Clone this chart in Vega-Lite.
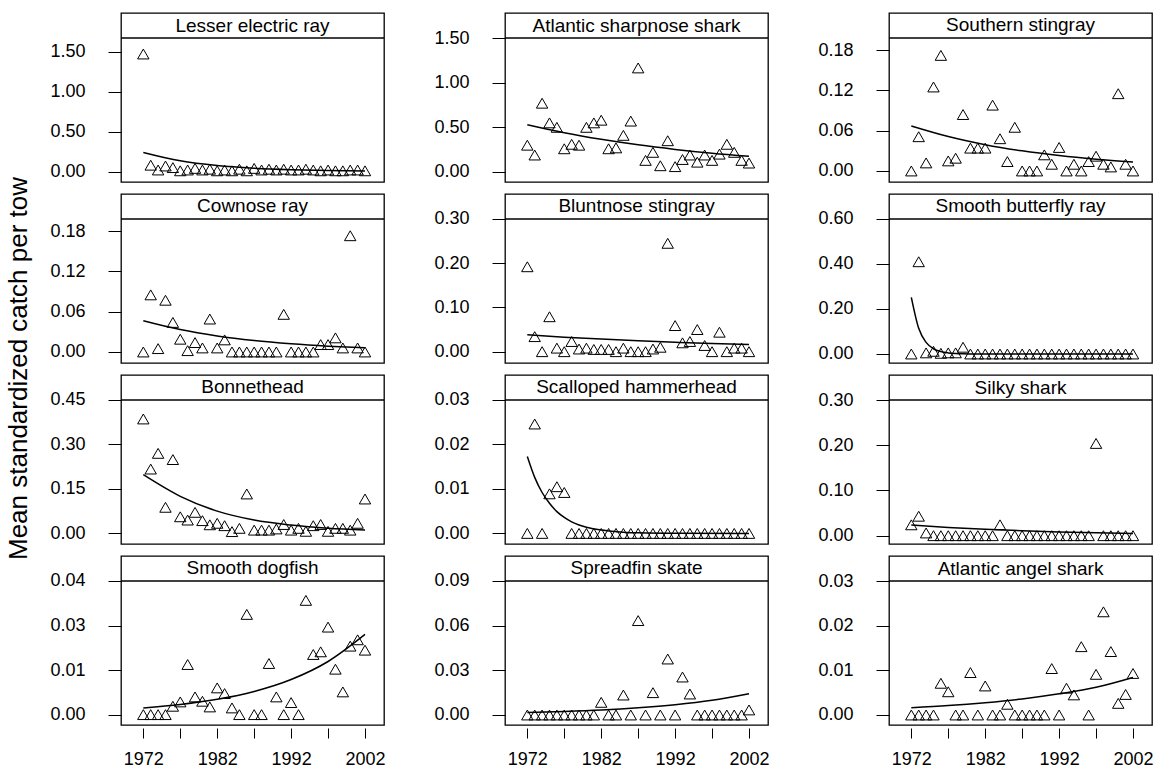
{
"$schema": "https://vega.github.io/schema/vega-lite/v6.json",
"padding": {"left": 6, "top": 12, "right": 0, "bottom": 0},
"title": {"text": "Mean standardized catch per tow", "orient": "left", "anchor": "middle", "fontSize": 26, "fontWeight": "normal", "font": "Liberation Sans", "color": "black", "offset": 17, "dx": 22},
"datasets": {
"p1": [{"year":1972,"cpue":1.47},{"year":1973,"cpue":0.08},{"year":1974,"cpue":0.02},{"year":1975,"cpue":0.07},{"year":1976,"cpue":0.05},{"year":1977,"cpue":0.01},{"year":1978,"cpue":0.02},{"year":1979,"cpue":0.04},{"year":1980,"cpue":0.02},{"year":1981,"cpue":0.03},{"year":1982,"cpue":0.01},{"year":1983,"cpue":0.02},{"year":1984,"cpue":0.01},{"year":1985,"cpue":0.03},{"year":1986,"cpue":0.01},{"year":1987,"cpue":0.04},{"year":1988,"cpue":0.02},{"year":1989,"cpue":0.03},{"year":1990,"cpue":0.02},{"year":1991,"cpue":0.03},{"year":1992,"cpue":0.02},{"year":1993,"cpue":0.02},{"year":1994,"cpue":0.03},{"year":1995,"cpue":0.02},{"year":1996,"cpue":0.01},{"year":1997,"cpue":0.02},{"year":1998,"cpue":0.01},{"year":1999,"cpue":0.01},{"year":2000,"cpue":0.02},{"year":2001,"cpue":0.02},{"year":2002,"cpue":0.01}],
"p2": [{"year":1972,"cpue":0.30},{"year":1973,"cpue":0.19},{"year":1974,"cpue":0.77},{"year":1975,"cpue":0.55},{"year":1976,"cpue":0.50},{"year":1977,"cpue":0.26},{"year":1978,"cpue":0.31},{"year":1979,"cpue":0.30},{"year":1980,"cpue":0.50},{"year":1981,"cpue":0.55},{"year":1982,"cpue":0.58},{"year":1983,"cpue":0.26},{"year":1984,"cpue":0.27},{"year":1985,"cpue":0.41},{"year":1986,"cpue":0.57},{"year":1987,"cpue":1.165},{"year":1988,"cpue":0.13},{"year":1989,"cpue":0.22},{"year":1990,"cpue":0.07},{"year":1991,"cpue":0.35},{"year":1992,"cpue":0.06},{"year":1993,"cpue":0.14},{"year":1994,"cpue":0.19},{"year":1995,"cpue":0.11},{"year":1996,"cpue":0.19},{"year":1997,"cpue":0.13},{"year":1998,"cpue":0.20},{"year":1999,"cpue":0.31},{"year":2000,"cpue":0.22},{"year":2001,"cpue":0.13},{"year":2002,"cpue":0.10}],
"p3": [{"year":1972,"cpue":0.0},{"year":1973,"cpue":0.051},{"year":1974,"cpue":0.012},{"year":1975,"cpue":0.125},{"year":1976,"cpue":0.172},{"year":1977,"cpue":0.015},{"year":1978,"cpue":0.019},{"year":1979,"cpue":0.084},{"year":1980,"cpue":0.034},{"year":1981,"cpue":0.034},{"year":1982,"cpue":0.034},{"year":1983,"cpue":0.098},{"year":1984,"cpue":0.048},{"year":1985,"cpue":0.014},{"year":1986,"cpue":0.065},{"year":1987,"cpue":0.0},{"year":1988,"cpue":0.0},{"year":1989,"cpue":0.0},{"year":1990,"cpue":0.024},{"year":1991,"cpue":0.010},{"year":1992,"cpue":0.035},{"year":1993,"cpue":0.0},{"year":1994,"cpue":0.010},{"year":1995,"cpue":0.0},{"year":1996,"cpue":0.014},{"year":1997,"cpue":0.022},{"year":1998,"cpue":0.010},{"year":1999,"cpue":0.006},{"year":2000,"cpue":0.115},{"year":2001,"cpue":0.010},{"year":2002,"cpue":0.0}],
"p4": [{"year":1972,"cpue":0.0},{"year":1973,"cpue":0.085},{"year":1974,"cpue":0.005},{"year":1975,"cpue":0.077},{"year":1976,"cpue":0.044},{"year":1977,"cpue":0.019},{"year":1978,"cpue":0.002},{"year":1979,"cpue":0.014},{"year":1980,"cpue":0.006},{"year":1981,"cpue":0.049},{"year":1982,"cpue":0.006},{"year":1983,"cpue":0.018},{"year":1984,"cpue":0.0},{"year":1985,"cpue":0.0},{"year":1986,"cpue":0.0},{"year":1987,"cpue":0.0},{"year":1988,"cpue":0.0},{"year":1989,"cpue":0.0},{"year":1990,"cpue":0.0},{"year":1991,"cpue":0.056},{"year":1992,"cpue":0.0},{"year":1993,"cpue":0.0},{"year":1994,"cpue":0.0},{"year":1995,"cpue":0.0},{"year":1996,"cpue":0.011},{"year":1997,"cpue":0.011},{"year":1998,"cpue":0.021},{"year":1999,"cpue":0.006},{"year":2000,"cpue":0.173},{"year":2001,"cpue":0.006},{"year":2002,"cpue":0.0}],
"p5": [{"year":1972,"cpue":0.192},{"year":1973,"cpue":0.034},{"year":1974,"cpue":0.0},{"year":1975,"cpue":0.079},{"year":1976,"cpue":0.008},{"year":1977,"cpue":0.0},{"year":1978,"cpue":0.023},{"year":1979,"cpue":0.006},{"year":1980,"cpue":0.008},{"year":1981,"cpue":0.005},{"year":1982,"cpue":0.005},{"year":1983,"cpue":0.005},{"year":1984,"cpue":0.0},{"year":1985,"cpue":0.008},{"year":1986,"cpue":0.0},{"year":1987,"cpue":0.0},{"year":1988,"cpue":0.0},{"year":1989,"cpue":0.006},{"year":1990,"cpue":0.010},{"year":1991,"cpue":0.245},{"year":1992,"cpue":0.059},{"year":1993,"cpue":0.020},{"year":1994,"cpue":0.023},{"year":1995,"cpue":0.050},{"year":1996,"cpue":0.014},{"year":1997,"cpue":0.0},{"year":1998,"cpue":0.044},{"year":1999,"cpue":0.0},{"year":2000,"cpue":0.008},{"year":2001,"cpue":0.008},{"year":2002,"cpue":0.0}],
"p6": [{"year":1972,"cpue":0.0},{"year":1973,"cpue":0.41},{"year":1974,"cpue":0.005},{"year":1975,"cpue":0.012},{"year":1976,"cpue":0.003},{"year":1977,"cpue":0.005},{"year":1978,"cpue":0.005},{"year":1979,"cpue":0.03},{"year":1980,"cpue":0.0},{"year":1981,"cpue":0.0},{"year":1982,"cpue":0.0},{"year":1983,"cpue":0.0},{"year":1984,"cpue":0.0},{"year":1985,"cpue":0.0},{"year":1986,"cpue":0.0},{"year":1987,"cpue":0.0},{"year":1988,"cpue":0.0},{"year":1989,"cpue":0.0},{"year":1990,"cpue":0.0},{"year":1991,"cpue":0.0},{"year":1992,"cpue":0.0},{"year":1993,"cpue":0.0},{"year":1994,"cpue":0.0},{"year":1995,"cpue":0.0},{"year":1996,"cpue":0.0},{"year":1997,"cpue":0.0},{"year":1998,"cpue":0.0},{"year":1999,"cpue":0.0},{"year":2000,"cpue":0.0},{"year":2001,"cpue":0.0},{"year":2002,"cpue":0.0}],
"p7": [{"year":1972,"cpue":0.386},{"year":1973,"cpue":0.217},{"year":1974,"cpue":0.27},{"year":1975,"cpue":0.088},{"year":1976,"cpue":0.249},{"year":1977,"cpue":0.056},{"year":1978,"cpue":0.045},{"year":1979,"cpue":0.071},{"year":1980,"cpue":0.043},{"year":1981,"cpue":0.029},{"year":1982,"cpue":0.034},{"year":1983,"cpue":0.026},{"year":1984,"cpue":0.006},{"year":1985,"cpue":0.017},{"year":1986,"cpue":0.133},{"year":1987,"cpue":0.011},{"year":1988,"cpue":0.011},{"year":1989,"cpue":0.011},{"year":1990,"cpue":0.015},{"year":1991,"cpue":0.030},{"year":1992,"cpue":0.011},{"year":1993,"cpue":0.017},{"year":1994,"cpue":0.007},{"year":1995,"cpue":0.026},{"year":1996,"cpue":0.030},{"year":1997,"cpue":0.007},{"year":1998,"cpue":0.017},{"year":1999,"cpue":0.017},{"year":2000,"cpue":0.011},{"year":2001,"cpue":0.034},{"year":2002,"cpue":0.116}],
"p8": [{"year":1972,"cpue":0.0},{"year":1973,"cpue":0.0246},{"year":1974,"cpue":0.0},{"year":1975,"cpue":0.0089},{"year":1976,"cpue":0.0105},{"year":1977,"cpue":0.0092},{"year":1978,"cpue":0.0},{"year":1979,"cpue":0.0},{"year":1980,"cpue":0.0},{"year":1981,"cpue":0.0},{"year":1982,"cpue":0.0},{"year":1983,"cpue":0.0},{"year":1984,"cpue":0.0},{"year":1985,"cpue":0.0},{"year":1986,"cpue":0.0},{"year":1987,"cpue":0.0},{"year":1988,"cpue":0.0},{"year":1989,"cpue":0.0},{"year":1990,"cpue":0.0},{"year":1991,"cpue":0.0},{"year":1992,"cpue":0.0},{"year":1993,"cpue":0.0},{"year":1994,"cpue":0.0},{"year":1995,"cpue":0.0},{"year":1996,"cpue":0.0},{"year":1997,"cpue":0.0},{"year":1998,"cpue":0.0},{"year":1999,"cpue":0.0},{"year":2000,"cpue":0.0},{"year":2001,"cpue":0.0},{"year":2002,"cpue":0.0}],
"p9": [{"year":1972,"cpue":0.024},{"year":1973,"cpue":0.043},{"year":1974,"cpue":0.006},{"year":1975,"cpue":0.0},{"year":1976,"cpue":0.0},{"year":1977,"cpue":0.0},{"year":1978,"cpue":0.0},{"year":1979,"cpue":0.0},{"year":1980,"cpue":0.0},{"year":1981,"cpue":0.0},{"year":1982,"cpue":0.0},{"year":1983,"cpue":0.0},{"year":1984,"cpue":0.024},{"year":1985,"cpue":0.0},{"year":1986,"cpue":0.0},{"year":1987,"cpue":0.0},{"year":1988,"cpue":0.0},{"year":1989,"cpue":0.0},{"year":1990,"cpue":0.0},{"year":1991,"cpue":0.0},{"year":1992,"cpue":0.0},{"year":1993,"cpue":0.0},{"year":1994,"cpue":0.0},{"year":1995,"cpue":0.0},{"year":1996,"cpue":0.0},{"year":1997,"cpue":0.204},{"year":1998,"cpue":0.0},{"year":1999,"cpue":0.0},{"year":2000,"cpue":0.0},{"year":2001,"cpue":0.0},{"year":2002,"cpue":0.0}],
"p10": [{"year":1972,"cpue":0.0},{"year":1973,"cpue":0.0},{"year":1974,"cpue":0.0},{"year":1975,"cpue":0.0},{"year":1976,"cpue":0.0025},{"year":1977,"cpue":0.0038},{"year":1978,"cpue":0.015},{"year":1979,"cpue":0.0053},{"year":1980,"cpue":0.004},{"year":1981,"cpue":0.0023},{"year":1982,"cpue":0.008},{"year":1983,"cpue":0.0063},{"year":1984,"cpue":0.002},{"year":1985,"cpue":0.0},{"year":1986,"cpue":0.030},{"year":1987,"cpue":0.0},{"year":1988,"cpue":0.0},{"year":1989,"cpue":0.0153},{"year":1990,"cpue":0.0053},{"year":1991,"cpue":0.0},{"year":1992,"cpue":0.0036},{"year":1993,"cpue":0.0},{"year":1994,"cpue":0.0342},{"year":1995,"cpue":0.018},{"year":1996,"cpue":0.0188},{"year":1997,"cpue":0.0262},{"year":1998,"cpue":0.0136},{"year":1999,"cpue":0.0068},{"year":2000,"cpue":0.0205},{"year":2001,"cpue":0.0224},{"year":2002,"cpue":0.0193}],
"p11": [{"year":1972,"cpue":0.0},{"year":1973,"cpue":0.0},{"year":1974,"cpue":0.0},{"year":1975,"cpue":0.0},{"year":1976,"cpue":0.0},{"year":1977,"cpue":0.0},{"year":1978,"cpue":0.0},{"year":1979,"cpue":0.0},{"year":1980,"cpue":0.0},{"year":1981,"cpue":0.0},{"year":1982,"cpue":0.0085},{"year":1983,"cpue":0.0},{"year":1984,"cpue":0.0},{"year":1985,"cpue":0.0134},{"year":1986,"cpue":0.0},{"year":1987,"cpue":0.0634},{"year":1988,"cpue":0.0},{"year":1989,"cpue":0.015},{"year":1990,"cpue":0.0},{"year":1991,"cpue":0.0376},{"year":1992,"cpue":0.0},{"year":1993,"cpue":0.0255},{"year":1994,"cpue":0.0141},{"year":1995,"cpue":0.0},{"year":1996,"cpue":0.0},{"year":1997,"cpue":0.0},{"year":1998,"cpue":0.0},{"year":1999,"cpue":0.0},{"year":2000,"cpue":0.0},{"year":2001,"cpue":0.0},{"year":2002,"cpue":0.0034}],
"p12": [{"year":1972,"cpue":0.0},{"year":1973,"cpue":0.0},{"year":1974,"cpue":0.0},{"year":1975,"cpue":0.0},{"year":1976,"cpue":0.0071},{"year":1977,"cpue":0.0052},{"year":1978,"cpue":0.0},{"year":1979,"cpue":0.0},{"year":1980,"cpue":0.0095},{"year":1981,"cpue":0.0},{"year":1982,"cpue":0.0065},{"year":1983,"cpue":0.0},{"year":1984,"cpue":0.0},{"year":1985,"cpue":0.0024},{"year":1986,"cpue":0.0},{"year":1987,"cpue":0.0},{"year":1988,"cpue":0.0},{"year":1989,"cpue":0.0},{"year":1990,"cpue":0.0},{"year":1991,"cpue":0.0104},{"year":1992,"cpue":0.0},{"year":1993,"cpue":0.006},{"year":1994,"cpue":0.0045},{"year":1995,"cpue":0.0153},{"year":1996,"cpue":0.0},{"year":1997,"cpue":0.0091},{"year":1998,"cpue":0.0231},{"year":1999,"cpue":0.0142},{"year":2000,"cpue":0.0026},{"year":2001,"cpue":0.0046},{"year":2002,"cpue":0.0093}],
"f1": [{"year":1972,"fit":0.24},{"year":1977,"fit":0.135},{"year":1982,"fit":0.0757},{"year":1987,"fit":0.0425},{"year":1992,"fit":0.0238},{"year":1997,"fit":0.0134},{"year":2002,"fit":0.0075}],
"f2": [{"year":1972,"fit":0.53},{"year":1977,"fit":0.44},{"year":1982,"fit":0.366},{"year":1987,"fit":0.304},{"year":1992,"fit":0.253},{"year":1997,"fit":0.21},{"year":2002,"fit":0.175}],
"f3": [{"year":1972,"fit":0.067},{"year":1977,"fit":0.0513},{"year":1982,"fit":0.0392},{"year":1987,"fit":0.030},{"year":1992,"fit":0.023},{"year":1997,"fit":0.0176},{"year":2002,"fit":0.0134}],
"f4": [{"year":1972,"fit":0.0465},{"year":1977,"fit":0.0333},{"year":1982,"fit":0.0238},{"year":1987,"fit":0.017},{"year":1992,"fit":0.0122},{"year":1997,"fit":0.0087},{"year":2002,"fit":0.0062}],
"f5": [{"year":1972,"fit":0.038},{"year":1977,"fit":0.0328},{"year":1982,"fit":0.0284},{"year":1987,"fit":0.0245},{"year":1992,"fit":0.0212},{"year":1997,"fit":0.0183},{"year":2002,"fit":0.016}],
"f6": [{"year":1972,"fit":0.252},{"year":1973,"fit":0.114},{"year":1974,"fit":0.0515},{"year":1975,"fit":0.0233},{"year":1976,"fit":0.0105},{"year":1977,"fit":0.0048},{"year":1978,"fit":0.0022},{"year":1979,"fit":0.001},{"year":1981,"fit":0.0002},{"year":1987,"fit":0.0},{"year":2002,"fit":0.0}],
"f7": [{"year":1972,"fit":0.198},{"year":1977,"fit":0.125},{"year":1982,"fit":0.075},{"year":1987,"fit":0.045},{"year":1992,"fit":0.028},{"year":1997,"fit":0.017},{"year":2002,"fit":0.011}],
"f8": [{"year":1972,"fit":0.0173},{"year":1973,"fit":0.0126},{"year":1974,"fit":0.0092},{"year":1975,"fit":0.0068},{"year":1976,"fit":0.0049},{"year":1977,"fit":0.0036},{"year":1978,"fit":0.0026},{"year":1979,"fit":0.0019},{"year":1980,"fit":0.0014},{"year":1982,"fit":0.00075},{"year":1984,"fit":0.0004},{"year":1987,"fit":0.00015},{"year":1992,"fit":0.00003},{"year":2002,"fit":0.0}],
"f9": [{"year":1972,"fit":0.0236},{"year":1977,"fit":0.0182},{"year":1982,"fit":0.0141},{"year":1987,"fit":0.0109},{"year":1992,"fit":0.0084},{"year":1997,"fit":0.0065},{"year":2002,"fit":0.005}],
"f10": [{"year":1972,"fit":0.002},{"year":1977,"fit":0.00303},{"year":1982,"fit":0.00458},{"year":1987,"fit":0.00693},{"year":1992,"fit":0.0105},{"year":1997,"fit":0.0159},{"year":2002,"fit":0.024}],
"f11": [{"year":1972,"fit":0.0016},{"year":1977,"fit":0.0023},{"year":1982,"fit":0.0033},{"year":1987,"fit":0.0048},{"year":1992,"fit":0.0069},{"year":1997,"fit":0.0099},{"year":2002,"fit":0.0143}],
"f12": [{"year":1972,"fit":0.0016},{"year":1977,"fit":0.0021},{"year":1982,"fit":0.00276},{"year":1987,"fit":0.0036},{"year":1992,"fit":0.00475},{"year":1997,"fit":0.0062},{"year":2002,"fit":0.0084}]
},
"columns": 3,
"spacing": {"row": 12, "column": 121},
"bounds": "flush",
"concat": [
{"width": 263, "height": 169, "layer": [
 {"data": {"name": "p1"}, "mark": {"type": "point", "shape": "triangle-up", "size": 130, "filled": false, "color": "black", "strokeWidth": 1, "opacity": 1},
  "encoding": {"x": {"field": "year", "type": "quantitative", "scale": {"domain": [1968.98, 2004.57], "nice": false, "zero": false}, "axis": null},
   "y": {"field": "cpue", "type": "quantitative", "scale": {"domain": [-0.13, 1.9825], "nice": false, "zero": false},
    "axis": {"title": null, "values": [0,0.25,0.5,0.75,1,1.25,1.5], "labelExpr": "round(datum.value/0.25)%2==0 ? format(datum.value,'.2f') : ''", "tickSize": {"condition": {"test": "round(datum.value/0.25)%2==0", "value": 13}, "value": 6}}}}},
 {"data": {"name": "f1"}, "mark": {"type": "line", "color": "black", "strokeWidth": 1.5, "interpolate": "monotone"}, "encoding": {"x": {"field": "year", "type": "quantitative"}, "y": {"field": "fit", "type": "quantitative"}}},
 {"data": {"values": [{}]}, "mark": {"type": "rule", "color": "black", "strokeWidth": 1.3}, "encoding": {"y": {"datum": 1.67, "type": "quantitative"}}},
 {"data": {"values": [{}]}, "mark": {"type": "text", "fontSize": 19, "color": "black", "baseline": "middle"}, "encoding": {"x": {"datum": 1986.78, "type": "quantitative"}, "y": {"datum": 1.826, "type": "quantitative"}, "text": {"value": "Lesser electric ray"}}}
]},
{"width": 263, "height": 169, "layer": [
 {"data": {"name": "p2"}, "mark": {"type": "point", "shape": "triangle-up", "size": 130, "filled": false, "color": "black", "strokeWidth": 1, "opacity": 1},
  "encoding": {"x": {"field": "year", "type": "quantitative", "scale": {"domain": [1968.98, 2004.57], "nice": false, "zero": false}, "axis": null},
   "y": {"field": "cpue", "type": "quantitative", "scale": {"domain": [-0.112, 1.78], "nice": false, "zero": false},
    "axis": {"title": null, "values": [0,0.25,0.5,0.75,1,1.25,1.5], "labelExpr": "round(datum.value/0.25)%2==0 ? format(datum.value,'.2f') : ''", "tickSize": {"condition": {"test": "round(datum.value/0.25)%2==0", "value": 13}, "value": 6}}}}},
 {"data": {"name": "f2"}, "mark": {"type": "line", "color": "black", "strokeWidth": 1.5, "interpolate": "monotone"}, "encoding": {"x": {"field": "year", "type": "quantitative"}, "y": {"field": "fit", "type": "quantitative"}}},
 {"data": {"values": [{}]}, "mark": {"type": "rule", "color": "black", "strokeWidth": 1.3}, "encoding": {"y": {"datum": 1.5, "type": "quantitative"}}},
 {"data": {"values": [{}]}, "mark": {"type": "text", "fontSize": 19, "color": "black", "baseline": "middle"}, "encoding": {"x": {"datum": 1986.78, "type": "quantitative"}, "y": {"datum": 1.64, "type": "quantitative"}, "text": {"value": "Atlantic sharpnose shark"}}}
]},
{"width": 263, "height": 169, "layer": [
 {"data": {"name": "p3"}, "mark": {"type": "point", "shape": "triangle-up", "size": 130, "filled": false, "color": "black", "strokeWidth": 1, "opacity": 1},
  "encoding": {"x": {"field": "year", "type": "quantitative", "scale": {"domain": [1968.98, 2004.57], "nice": false, "zero": false}, "axis": null},
   "y": {"field": "cpue", "type": "quantitative", "scale": {"domain": [-0.0164, 0.2351], "nice": false, "zero": false},
    "axis": {"title": null, "values": [0,0.03,0.06,0.09,0.12,0.15,0.18], "labelExpr": "round(datum.value/0.03)%2==0 ? format(datum.value,'.2f') : ''", "tickSize": {"condition": {"test": "round(datum.value/0.03)%2==0", "value": 13}, "value": 6}}}}},
 {"data": {"name": "f3"}, "mark": {"type": "line", "color": "black", "strokeWidth": 1.5, "interpolate": "monotone"}, "encoding": {"x": {"field": "year", "type": "quantitative"}, "y": {"field": "fit", "type": "quantitative"}}},
 {"data": {"values": [{}]}, "mark": {"type": "rule", "color": "black", "strokeWidth": 1.3}, "encoding": {"y": {"datum": 0.1979, "type": "quantitative"}}},
 {"data": {"values": [{}]}, "mark": {"type": "text", "fontSize": 19, "color": "black", "baseline": "middle"}, "encoding": {"x": {"datum": 1986.78, "type": "quantitative"}, "y": {"datum": 0.2165, "type": "quantitative"}, "text": {"value": "Southern stingray"}}}
]},
{"width": 263, "height": 169, "layer": [
 {"data": {"name": "p4"}, "mark": {"type": "point", "shape": "triangle-up", "size": 130, "filled": false, "color": "black", "strokeWidth": 1, "opacity": 1},
  "encoding": {"x": {"field": "year", "type": "quantitative", "scale": {"domain": [1968.98, 2004.57], "nice": false, "zero": false}, "axis": null},
   "y": {"field": "cpue", "type": "quantitative", "scale": {"domain": [-0.0164, 0.2351], "nice": false, "zero": false},
    "axis": {"title": null, "values": [0,0.03,0.06,0.09,0.12,0.15,0.18], "labelExpr": "round(datum.value/0.03)%2==0 ? format(datum.value,'.2f') : ''", "tickSize": {"condition": {"test": "round(datum.value/0.03)%2==0", "value": 13}, "value": 6}}}}},
 {"data": {"name": "f4"}, "mark": {"type": "line", "color": "black", "strokeWidth": 1.5, "interpolate": "monotone"}, "encoding": {"x": {"field": "year", "type": "quantitative"}, "y": {"field": "fit", "type": "quantitative"}}},
 {"data": {"values": [{}]}, "mark": {"type": "rule", "color": "black", "strokeWidth": 1.3}, "encoding": {"y": {"datum": 0.1979, "type": "quantitative"}}},
 {"data": {"values": [{}]}, "mark": {"type": "text", "fontSize": 19, "color": "black", "baseline": "middle"}, "encoding": {"x": {"datum": 1986.78, "type": "quantitative"}, "y": {"datum": 0.2165, "type": "quantitative"}, "text": {"value": "Cownose ray"}}}
]},
{"width": 263, "height": 169, "layer": [
 {"data": {"name": "p5"}, "mark": {"type": "point", "shape": "triangle-up", "size": 130, "filled": false, "color": "black", "strokeWidth": 1, "opacity": 1},
  "encoding": {"x": {"field": "year", "type": "quantitative", "scale": {"domain": [1968.98, 2004.57], "nice": false, "zero": false}, "axis": null},
   "y": {"field": "cpue", "type": "quantitative", "scale": {"domain": [-0.0256, 0.3565], "nice": false, "zero": false},
    "axis": {"title": null, "values": [0,0.05,0.1,0.15,0.2,0.25,0.3], "labelExpr": "round(datum.value/0.05)%2==0 ? format(datum.value,'.2f') : ''", "tickSize": {"condition": {"test": "round(datum.value/0.05)%2==0", "value": 13}, "value": 6}}}}},
 {"data": {"name": "f5"}, "mark": {"type": "line", "color": "black", "strokeWidth": 1.5, "interpolate": "monotone"}, "encoding": {"x": {"field": "year", "type": "quantitative"}, "y": {"field": "fit", "type": "quantitative"}}},
 {"data": {"values": [{}]}, "mark": {"type": "rule", "color": "black", "strokeWidth": 1.3}, "encoding": {"y": {"datum": 0.3, "type": "quantitative"}}},
 {"data": {"values": [{}]}, "mark": {"type": "text", "fontSize": 19, "color": "black", "baseline": "middle"}, "encoding": {"x": {"datum": 1986.78, "type": "quantitative"}, "y": {"datum": 0.3283, "type": "quantitative"}, "text": {"value": "Bluntnose stingray"}}}
]},
{"width": 263, "height": 169, "layer": [
 {"data": {"name": "p6"}, "mark": {"type": "point", "shape": "triangle-up", "size": 130, "filled": false, "color": "black", "strokeWidth": 1, "opacity": 1},
  "encoding": {"x": {"field": "year", "type": "quantitative", "scale": {"domain": [1968.98, 2004.57], "nice": false, "zero": false}, "axis": null},
   "y": {"field": "cpue", "type": "quantitative", "scale": {"domain": [-0.04, 0.7111], "nice": false, "zero": false},
    "axis": {"title": null, "values": [0,0.1,0.2,0.3,0.4,0.5,0.6], "labelExpr": "round(datum.value/0.1)%2==0 ? format(datum.value,'.2f') : ''", "tickSize": {"condition": {"test": "round(datum.value/0.1)%2==0", "value": 13}, "value": 6}}}}},
 {"data": {"name": "f6"}, "mark": {"type": "line", "color": "black", "strokeWidth": 1.5, "interpolate": "monotone"}, "encoding": {"x": {"field": "year", "type": "quantitative"}, "y": {"field": "fit", "type": "quantitative"}}},
 {"data": {"values": [{}]}, "mark": {"type": "rule", "color": "black", "strokeWidth": 1.3}, "encoding": {"y": {"datum": 0.6, "type": "quantitative"}}},
 {"data": {"values": [{}]}, "mark": {"type": "text", "fontSize": 19, "color": "black", "baseline": "middle"}, "encoding": {"x": {"datum": 1986.78, "type": "quantitative"}, "y": {"datum": 0.6556, "type": "quantitative"}, "text": {"value": "Smooth butterfly ray"}}}
]},
{"width": 263, "height": 169, "layer": [
 {"data": {"name": "p7"}, "mark": {"type": "point", "shape": "triangle-up", "size": 130, "filled": false, "color": "black", "strokeWidth": 1, "opacity": 1},
  "encoding": {"x": {"field": "year", "type": "quantitative", "scale": {"domain": [1968.98, 2004.57], "nice": false, "zero": false}, "axis": null},
   "y": {"field": "cpue", "type": "quantitative", "scale": {"domain": [-0.0358, 0.5343], "nice": false, "zero": false},
    "axis": {"title": null, "values": [0,0.075,0.15,0.225,0.3,0.375,0.45], "labelExpr": "round(datum.value/0.075)%2==0 ? format(datum.value,'.2f') : ''", "tickSize": {"condition": {"test": "round(datum.value/0.075)%2==0", "value": 13}, "value": 6}}}}},
 {"data": {"name": "f7"}, "mark": {"type": "line", "color": "black", "strokeWidth": 1.5, "interpolate": "monotone"}, "encoding": {"x": {"field": "year", "type": "quantitative"}, "y": {"field": "fit", "type": "quantitative"}}},
 {"data": {"values": [{}]}, "mark": {"type": "rule", "color": "black", "strokeWidth": 1.3}, "encoding": {"y": {"datum": 0.45, "type": "quantitative"}}},
 {"data": {"values": [{}]}, "mark": {"type": "text", "fontSize": 19, "color": "black", "baseline": "middle"}, "encoding": {"x": {"datum": 1986.78, "type": "quantitative"}, "y": {"datum": 0.4922, "type": "quantitative"}, "text": {"value": "Bonnethead"}}}
]},
{"width": 263, "height": 169, "layer": [
 {"data": {"name": "p8"}, "mark": {"type": "point", "shape": "triangle-up", "size": 130, "filled": false, "color": "black", "strokeWidth": 1, "opacity": 1},
  "encoding": {"x": {"field": "year", "type": "quantitative", "scale": {"domain": [1968.98, 2004.57], "nice": false, "zero": false}, "axis": null},
   "y": {"field": "cpue", "type": "quantitative", "scale": {"domain": [-0.00238, 0.03562], "nice": false, "zero": false},
    "axis": {"title": null, "values": [0,0.005,0.01,0.015,0.02,0.025,0.03], "labelExpr": "round(datum.value/0.005)%2==0 ? format(datum.value,'.2f') : ''", "tickSize": {"condition": {"test": "round(datum.value/0.005)%2==0", "value": 13}, "value": 6}}}}},
 {"data": {"name": "f8"}, "mark": {"type": "line", "color": "black", "strokeWidth": 1.5, "interpolate": "monotone"}, "encoding": {"x": {"field": "year", "type": "quantitative"}, "y": {"field": "fit", "type": "quantitative"}}},
 {"data": {"values": [{}]}, "mark": {"type": "rule", "color": "black", "strokeWidth": 1.3}, "encoding": {"y": {"datum": 0.03, "type": "quantitative"}}},
 {"data": {"values": [{}]}, "mark": {"type": "text", "fontSize": 19, "color": "black", "baseline": "middle"}, "encoding": {"x": {"datum": 1986.78, "type": "quantitative"}, "y": {"datum": 0.03281, "type": "quantitative"}, "text": {"value": "Scalloped hammerhead"}}}
]},
{"width": 263, "height": 169, "layer": [
 {"data": {"name": "p9"}, "mark": {"type": "point", "shape": "triangle-up", "size": 130, "filled": false, "color": "black", "strokeWidth": 1, "opacity": 1},
  "encoding": {"x": {"field": "year", "type": "quantitative", "scale": {"domain": [1968.98, 2004.57], "nice": false, "zero": false}, "axis": null},
   "y": {"field": "cpue", "type": "quantitative", "scale": {"domain": [-0.0184, 0.3553], "nice": false, "zero": false},
    "axis": {"title": null, "values": [0,0.05,0.1,0.15,0.2,0.25,0.3], "labelExpr": "round(datum.value/0.05)%2==0 ? format(datum.value,'.2f') : ''", "tickSize": {"condition": {"test": "round(datum.value/0.05)%2==0", "value": 13}, "value": 6}}}}},
 {"data": {"name": "f9"}, "mark": {"type": "line", "color": "black", "strokeWidth": 1.5, "interpolate": "monotone"}, "encoding": {"x": {"field": "year", "type": "quantitative"}, "y": {"field": "fit", "type": "quantitative"}}},
 {"data": {"values": [{}]}, "mark": {"type": "rule", "color": "black", "strokeWidth": 1.3}, "encoding": {"y": {"datum": 0.3, "type": "quantitative"}}},
 {"data": {"values": [{}]}, "mark": {"type": "text", "fontSize": 19, "color": "black", "baseline": "middle"}, "encoding": {"x": {"datum": 1986.78, "type": "quantitative"}, "y": {"datum": 0.3276, "type": "quantitative"}, "text": {"value": "Silky shark"}}}
]},
{"width": 263, "height": 169, "layer": [
 {"data": {"name": "p10"}, "mark": {"type": "point", "shape": "triangle-up", "size": 130, "filled": false, "color": "black", "strokeWidth": 1, "opacity": 1},
  "encoding": {"x": {"field": "year", "type": "quantitative", "scale": {"domain": [1968.98, 2004.57], "nice": false, "zero": false},
    "axis": {"title": null, "values": [1972,1974.5,1977,1979.5,1982,1984.5,1987,1989.5,1992,1994.5,1997,1999.5,2002,2004.5], "labelExpr": "datum.value % 10 == 2 ? format(datum.value,'d') : ''"}},
   "y": {"field": "cpue", "type": "quantitative", "scale": {"domain": [-0.00311, 0.047484], "nice": false, "zero": false},
    "axis": {"title": null, "values": [0,0.0066667,0.0133333,0.02,0.0266667,0.0333333,0.04], "labelExpr": "round(datum.value/0.0066667)%2==0 ? format(datum.value,'.2f') : ''", "tickSize": {"condition": {"test": "round(datum.value/0.0066667)%2==0", "value": 13}, "value": 6}}}}},
 {"data": {"name": "f10"}, "mark": {"type": "line", "color": "black", "strokeWidth": 1.5, "interpolate": "monotone"}, "encoding": {"x": {"field": "year", "type": "quantitative"}, "y": {"field": "fit", "type": "quantitative"}}},
 {"data": {"values": [{}]}, "mark": {"type": "rule", "color": "black", "strokeWidth": 1.3}, "encoding": {"y": {"datum": 0.04, "type": "quantitative"}}},
 {"data": {"values": [{}]}, "mark": {"type": "text", "fontSize": 19, "color": "black", "baseline": "middle"}, "encoding": {"x": {"datum": 1986.78, "type": "quantitative"}, "y": {"datum": 0.043742, "type": "quantitative"}, "text": {"value": "Smooth dogfish"}}}
]},
{"width": 263, "height": 169, "layer": [
 {"data": {"name": "p11"}, "mark": {"type": "point", "shape": "triangle-up", "size": 130, "filled": false, "color": "black", "strokeWidth": 1, "opacity": 1},
  "encoding": {"x": {"field": "year", "type": "quantitative", "scale": {"domain": [1968.98, 2004.57], "nice": false, "zero": false},
    "axis": {"title": null, "values": [1972,1974.5,1977,1979.5,1982,1984.5,1987,1989.5,1992,1994.5,1997,1999.5,2002,2004.5], "labelExpr": "datum.value % 10 == 2 ? format(datum.value,'d') : ''"}},
   "y": {"field": "cpue", "type": "quantitative", "scale": {"domain": [-0.00672, 0.10679], "nice": false, "zero": false},
    "axis": {"title": null, "values": [0,0.015,0.03,0.045,0.06,0.075,0.09], "labelExpr": "round(datum.value/0.015)%2==0 ? format(datum.value,'.2f') : ''", "tickSize": {"condition": {"test": "round(datum.value/0.015)%2==0", "value": 13}, "value": 6}}}}},
 {"data": {"name": "f11"}, "mark": {"type": "line", "color": "black", "strokeWidth": 1.5, "interpolate": "monotone"}, "encoding": {"x": {"field": "year", "type": "quantitative"}, "y": {"field": "fit", "type": "quantitative"}}},
 {"data": {"values": [{}]}, "mark": {"type": "rule", "color": "black", "strokeWidth": 1.3}, "encoding": {"y": {"datum": 0.09, "type": "quantitative"}}},
 {"data": {"values": [{}]}, "mark": {"type": "text", "fontSize": 19, "color": "black", "baseline": "middle"}, "encoding": {"x": {"datum": 1986.78, "type": "quantitative"}, "y": {"datum": 0.0984, "type": "quantitative"}, "text": {"value": "Spreadfin skate"}}}
]},
{"width": 263, "height": 169, "layer": [
 {"data": {"name": "p12"}, "mark": {"type": "point", "shape": "triangle-up", "size": 130, "filled": false, "color": "black", "strokeWidth": 1, "opacity": 1},
  "encoding": {"x": {"field": "year", "type": "quantitative", "scale": {"domain": [1968.98, 2004.57], "nice": false, "zero": false},
    "axis": {"title": null, "values": [1972,1974.5,1977,1979.5,1982,1984.5,1987,1989.5,1992,1994.5,1997,1999.5,2002,2004.5], "labelExpr": "datum.value % 10 == 2 ? format(datum.value,'d') : ''"}},
   "y": {"field": "cpue", "type": "quantitative", "scale": {"domain": [-0.00224, 0.0356], "nice": false, "zero": false},
    "axis": {"title": null, "values": [0,0.005,0.01,0.015,0.02,0.025,0.03], "labelExpr": "round(datum.value/0.005)%2==0 ? format(datum.value,'.2f') : ''", "tickSize": {"condition": {"test": "round(datum.value/0.005)%2==0", "value": 13}, "value": 6}}}}},
 {"data": {"name": "f12"}, "mark": {"type": "line", "color": "black", "strokeWidth": 1.5, "interpolate": "monotone"}, "encoding": {"x": {"field": "year", "type": "quantitative"}, "y": {"field": "fit", "type": "quantitative"}}},
 {"data": {"values": [{}]}, "mark": {"type": "rule", "color": "black", "strokeWidth": 1.3}, "encoding": {"y": {"datum": 0.03, "type": "quantitative"}}},
 {"data": {"values": [{}]}, "mark": {"type": "text", "fontSize": 19, "color": "black", "baseline": "middle"}, "encoding": {"x": {"datum": 1986.78, "type": "quantitative"}, "y": {"datum": 0.0328, "type": "quantitative"}, "text": {"value": "Atlantic angel shark"}}}
]}
],
"config": {
 "font": "Liberation Sans",
 "background": "white",
 "view": {"stroke": "black", "strokeWidth": 1.3},
 "axis": {"domain": false, "grid": false, "tickColor": "black", "tickWidth": 1, "labelColor": "black", "labelFontSize": 18, "labelFont": "Liberation Sans", "labelOverlap": false, "labelBound": false, "labelFlush": false},
 "axisY": {"labelPadding": 23},
 "axisX": {"tickSize": 10, "offset": 3, "labelPadding": 12}
}
}
